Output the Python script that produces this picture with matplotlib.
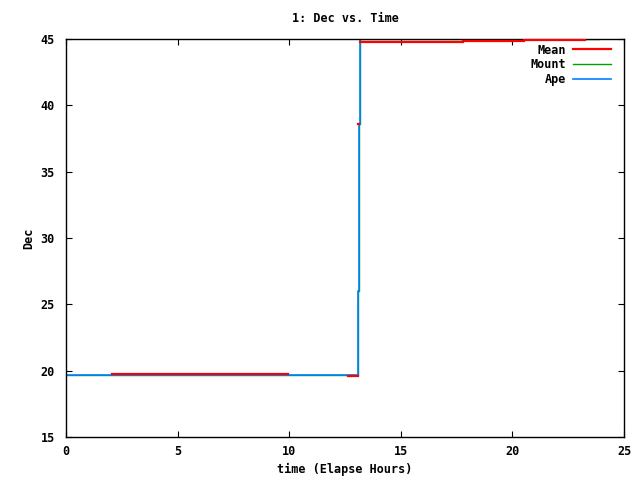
import numpy as np
import matplotlib
matplotlib.use("Agg")
import matplotlib.pyplot as plt

# Ape / Mount: step data (time in hours, Dec in degrees)
ape_t = [0.0, 13.10, 13.13, 13.17, 23.9]
ape_dec = [19.68, 26.0, 38.6, 45.0, 45.0]

mount_t = ape_t
mount_dec = ape_dec

# Mean: separate flat segments (start, end, value)
mean_start = [2.05, 12.65, 13.10, 13.17, 17.8, 20.5]
mean_end = [9.95, 13.10, 13.14, 17.8, 20.5, 23.25]
mean_dec = [19.75, 19.58, 38.6, 44.75, 44.83, 44.9]

plt.rcParams['font.family'] = ['DejaVu Sans Mono']
plt.rcParams['font.weight'] = 'bold'
plt.rcParams['font.size'] = 8.5

fig = plt.figure(figsize=(6.4, 4.8), dpi=100)
ax = fig.add_axes([0.103, 0.0896, 0.872, 0.8294])

mx, my = [], []
for s, e, v in zip(mean_start, mean_end, mean_dec):
    mx += [s, e, np.nan]
    my += [v, v, np.nan]
ax.plot(mx, my, color="#ff0000", lw=1.6, label="Mean", zorder=3)
ax.plot(mount_t, mount_dec, color="#00a000", lw=1, drawstyle="steps-post",
        label="Mount", zorder=1)
ax.plot(ape_t, ape_dec, color="#0080ff", lw=1.2, drawstyle="steps-post",
        label="Ape", zorder=2)

ax.set_xlim(0, 25)
ax.set_ylim(15, 45)
ax.set_xticks([0, 5, 10, 15, 20, 25])
ax.set_yticks([15, 20, 25, 30, 35, 40, 45])
ax.tick_params(direction="in", top=True, right=True, length=4, width=0.8)
ax.tick_params(axis="y", pad=8)
ax.tick_params(axis="x", pad=6)
for sp in ax.spines.values():
    sp.set_linewidth(1)

ax.set_title("1: Dec vs. Time", fontweight="bold", fontsize=8.5, pad=12)
ax.set_xlabel("time (Elapse Hours)", fontweight="bold", labelpad=3)
ax.set_ylabel("Dec", fontweight="bold", labelpad=4)

leg = ax.legend(loc="upper right", frameon=False, markerfirst=False,
                handlelength=3.2, handletextpad=0.6, labelspacing=0.15,
                borderaxespad=0.0, bbox_to_anchor=(0.985, 1.0))

fig.savefig("out.png", dpi=100)
